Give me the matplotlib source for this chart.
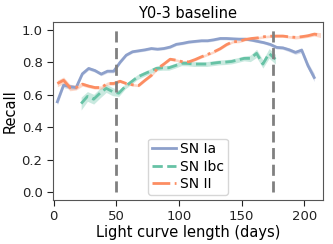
import matplotlib.pyplot as plt
import numpy as np

# light curve length (days) and recall per class
days_ia = np.arange(3, 209, 5)
recall_ia = [0.557, 0.66, 0.65, 0.645, 0.73, 0.763, 0.75, 0.728, 0.746, 0.746,
             0.80, 0.845, 0.866, 0.872, 0.878, 0.886, 0.882, 0.886, 0.895, 0.912,
             0.918, 0.926, 0.93, 0.934, 0.934, 0.94, 0.948, 0.948, 0.946, 0.944,
             0.944, 0.938, 0.93, 0.922, 0.911, 0.893, 0.89, 0.878, 0.862, 0.876,
             0.78, 0.707]
err_ia = [0.02, 0.015, 0.015, 0.012, 0.01, 0.01, 0.01, 0.01, 0.01, 0.01,
          0.01, 0.008, 0.008, 0.008, 0.008, 0.008, 0.008, 0.008, 0.008, 0.008,
          0.008, 0.008, 0.008, 0.008, 0.008, 0.008, 0.008, 0.008, 0.008, 0.008,
          0.008, 0.008, 0.008, 0.008, 0.01, 0.01, 0.01, 0.012, 0.012, 0.015,
          0.02, 0.025]

days_ibc = np.arange(22, 178, 5)
recall_ibc = [0.546, 0.59, 0.573, 0.61, 0.64, 0.62, 0.61, 0.65, 0.68, 0.71,
              0.728, 0.745, 0.763, 0.767, 0.767, 0.78, 0.795, 0.794, 0.79, 0.79,
              0.79, 0.795, 0.8, 0.802, 0.806, 0.815, 0.825, 0.825, 0.856, 0.79,
              0.856, 0.82]
err_ibc = [0.04, 0.03, 0.03, 0.03, 0.025, 0.025, 0.02, 0.015, 0.015, 0.015,
           0.015, 0.015, 0.015, 0.015, 0.015, 0.015, 0.015, 0.015, 0.015, 0.015,
           0.015, 0.015, 0.015, 0.015, 0.015, 0.015, 0.015, 0.02, 0.025, 0.025,
           0.03, 0.03]

days_ii = np.arange(3, 214, 5)
recall_ii = [0.67, 0.69, 0.645, 0.645, 0.666, 0.654, 0.645, 0.645, 0.67, 0.67,
             0.684, 0.67, 0.662, 0.658, 0.69, 0.72, 0.763, 0.79, 0.82, 0.814,
             0.804, 0.804, 0.818, 0.835, 0.85, 0.866, 0.885, 0.91, 0.928, 0.93,
             0.942, 0.948, 0.952, 0.959, 0.962, 0.963, 0.963, 0.958, 0.955, 0.959,
             0.965, 0.975, 0.969]
err_ii = [0.02, 0.02, 0.02, 0.015, 0.012, 0.01, 0.01, 0.01, 0.01, 0.01,
          0.008, 0.008, 0.008, 0.008, 0.008, 0.008, 0.008, 0.008, 0.008, 0.008,
          0.008, 0.008, 0.008, 0.008, 0.008, 0.008, 0.008, 0.008, 0.008, 0.008,
          0.008, 0.008, 0.008, 0.008, 0.008, 0.008, 0.008, 0.008, 0.01, 0.01,
          0.01, 0.012, 0.015]

series = [
    ("SN Ia", days_ia, recall_ia, err_ia, "#8da0cb", "-"),
    ("SN Ibc", days_ibc, recall_ibc, err_ibc, "#66c2a5", "--"),
    ("SN II", days_ii, recall_ii, err_ii, "#fc8d62", "-."),
]

fig = plt.figure(figsize=(3.33, 2.44), dpi=100)
ax = fig.add_axes([0.159, 0.18, 0.811, 0.73])

for name, x, y, e, c, ls in series:
    y = np.array(y)
    e = np.array(e)
    ax.fill_between(x, y - e, y + e, color=c, alpha=0.35, lw=0)
    ax.plot(x, y, color=c, ls=ls, lw=2, label=name)

# cut-offs
for xv in [50, 175]:
    ax.vlines(xv, 0, 1, colors="gray", linestyles=(0, (4, 2)), lw=2)

ax.set_xlim(-0.5, 215)
ax.set_ylim(-0.05, 1.05)
ax.set_xticks([0, 50, 100, 150, 200])
ax.set_yticks([0.0, 0.2, 0.4, 0.6, 0.8, 1.0])
ax.tick_params(labelsize=9.5, colors="#222222", direction="out", length=4)
for sp in ax.spines.values():
    sp.set_color("#555555")

ax.set_xlabel("Light curve length (days)", fontsize=10.5, labelpad=1)
ax.set_ylabel("Recall", fontsize=10.5, labelpad=3)
ax.set_title("Y0-3 baseline", fontsize=10.5, pad=3)
ax.legend(loc="lower center", fontsize=10, handlelength=1.75,
          handletextpad=0.3, borderpad=0.25, borderaxespad=0.4,
          labelspacing=0.25)

fig.savefig("out.png", dpi=100)
